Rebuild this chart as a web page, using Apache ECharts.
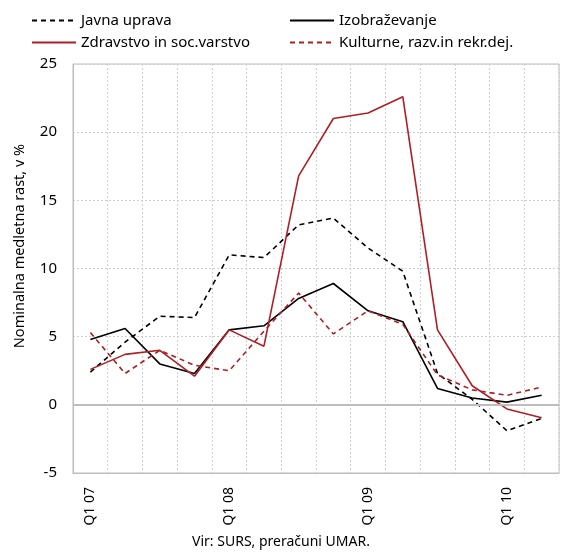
<!DOCTYPE html>
<html>
<head>
<meta charset="utf-8">
<script src="https://cdn.jsdelivr.net/npm/echarts@6/dist/echarts.min.js"></script>
<style>
  html, body { margin: 0; padding: 0; background: #fff; }
  #chart { width: 562px; height: 554px; }
</style>
</head>
<body>
<div id="chart"></div>
<script>
const quarters = ['Q1 07', 'Q2 07', 'Q3 07', 'Q4 07', 'Q1 08', 'Q2 08', 'Q3 08', 'Q4 08',
  'Q1 09', 'Q2 09', 'Q3 09', 'Q4 09', 'Q1 10', 'Q2 10']
const javnaUprava = [2.4, 4.6, 6.5, 6.4, 11.0, 10.8, 13.2, 13.7, 11.5, 9.8, 2.3, 0.4, -1.9, -1.0]
const izobrazevanje = [4.8, 5.6, 3.0, 2.3, 5.5, 5.8, 7.8, 8.9, 6.9, 6.1, 1.2, 0.5, 0.2, 0.7]
const zdravstvo = [2.6, 3.7, 4.0, 2.1, 5.5, 4.3, 16.8, 21.0, 21.4, 22.6, 5.5, 1.4, -0.3, -0.95]
const kulturne = [5.3, 2.3, 4.0, 2.9, 2.5, 5.4, 8.2, 5.2, 6.9, 5.9, 2.2, 1.1, 0.7, 1.3]
const yTicks = { min: -5, max: 25, interval: 5 }

const red = '#ad1f27'
const font = 'Noto Sans'

const mk = (name, data, color, type) => ({
  name: name,
  type: 'line',
  data: data,
  symbol: 'none',
  lineStyle: { color: color, width: 1.6, type: type },
  itemStyle: { color: color }
})

const chart = echarts.init(document.getElementById('chart'))
const series = [
  mk('Javna uprava', javnaUprava, '#000', [5, 4]),
  mk('Izobraževanje', izobrazevanje, '#000', 'solid'),
  mk('Zdravstvo in soc.varstvo', zdravstvo, red, 'solid'),
  mk('Kulturne, razv.in rekr.dej.', kulturne, red, [5, 4])
]
series[0].markLine = {
  silent: true,
  symbol: 'none',
  label: { show: false },
  lineStyle: { color: '#bdbdbd', width: 2, type: 'solid' },
  data: [{ yAxis: 0 }]
}

const legendBase = {
  orient: 'vertical',
  top: 8,
  itemWidth: 44,
  itemHeight: 10,
  itemGap: 7,
  selectedMode: false,
  itemStyle: { opacity: 0 },
  textStyle: { fontFamily: font, fontSize: 15, color: '#000' }
}

chart.setOption({
  animation: false,
  legend: [
    Object.assign({}, legendBase, { left: 26, data: ['Javna uprava', 'Zdravstvo in soc.varstvo'] }),
    Object.assign({}, legendBase, { left: 284, data: ['Izobraževanje', 'Kulturne, razv.in rekr.dej.'] })
  ],
  title: {
    text: 'Vir: SURS, preračuni UMAR.',
    left: 'center',
    bottom: 0,
    textStyle: { fontFamily: font, fontSize: 14, fontWeight: 'normal', color: '#000' }
  },
  graphic: [{
    type: 'text',
    x: 20,
    y: 246,
    rotation: Math.PI / 2,
    style: {
      text: 'Nominalna medletna rast, v %',
      fontFamily: font,
      fontSize: 14.5,
      fill: '#000',
      align: 'center',
      verticalAlign: 'middle'
    }
  }],
  grid: {
    left: 73, right: 3, top: 64, bottom: 81,
    show: true, borderColor: '#bdbdbd', borderWidth: 1
  },
  xAxis: {
    type: 'category',
    data: quarters,
    boundaryGap: true,
    axisLine: { onZero: false, lineStyle: { color: '#bdbdbd', width: 1 } },
    axisTick: { show: false },
    axisLabel: {
      interval: 3,
      rotate: 90,
      margin: 14,
      fontFamily: font,
      fontSize: 14,
      color: '#000'
    },
    splitLine: { show: true, interval: 0, lineStyle: { color: '#cfcfcf', type: [2, 2] } }
  },
  yAxis: {
    type: 'value',
    min: yTicks.min,
    max: yTicks.max,
    interval: yTicks.interval,
    axisLine: { show: true, lineStyle: { color: '#bdbdbd' } },
    axisTick: { show: false },
    axisLabel: { margin: 16, fontFamily: font, fontSize: 15, color: '#000' },
    splitLine: { show: true, lineStyle: { color: '#cfcfcf', type: [2, 2] } }
  },
  series: series
})
</script>
</body>
</html>
